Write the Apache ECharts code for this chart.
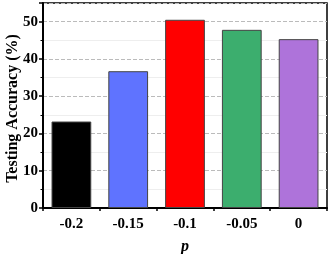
<!DOCTYPE html>
<html><head><meta charset="utf-8">
<script src="https://cdn.jsdelivr.net/npm/echarts@6/dist/echarts.min.js"></script>
<style>html,body{margin:0;padding:0;background:#fff}#c{width:332px;height:254px}</style>
</head><body><div id="c"></div>
<script>
const categories = ['-0.2', '-0.15', '-0.1', '-0.05', '0'];
const accuracy = [23.2, 36.7, 50.5, 47.8, 45.3];
const barColors = ['#000000', '#5F73FF', '#FF0000', '#3CAE6E', '#AE73DA'];
const yTicks = [0, 10, 20, 30, 40, 50];

const chart = echarts.init(document.getElementById('c'));
const font = '"Liberation Serif","Times New Roman",serif';
chart.setOption({
  animation: false,
  grid: {left: 43, right: 5, top: 3, bottom: 46, show: true, borderColor: '#000', borderWidth: 1.5,
         containLabel: false, outerBoundsMode: 'none'},
  xAxis: {
    type: 'category', data: categories,
    name: 'p', nameLocation: 'middle', nameGap: 31, nameMoveOverlap: false,
    nameTextStyle: {fontFamily: font, fontSize: 16, fontWeight: 'bold', fontStyle: 'italic', color: '#000'},
    axisLine: {lineStyle: {color: '#000', width: 2}},
    axisTick: {show: true, inside: false, length: 3, lineStyle: {color: '#000', width: 1.5}},
    axisLabel: {fontFamily: font, fontSize: 15, fontWeight: 'bold', color: '#000', margin: 9}
  },
  yAxis: {
    type: 'value', min: 0, max: 55, interval: 10,
    name: 'Testing Accuracy (%)', nameLocation: 'middle', nameGap: 22, nameMoveOverlap: false,
    nameTextStyle: {fontFamily: font, fontSize: 16, fontWeight: 'bold', color: '#000', padding: [0, 6, 0, 0]},
    axisLine: {show: true, lineStyle: {color: '#000', width: 2}},
    axisTick: {show: true, length: 4, lineStyle: {color: '#000', width: 1.5}},
    minorTick: {show: true, splitNumber: 2, length: 2.5, lineStyle: {color: '#000', width: 1}},
    splitLine: {show: true, lineStyle: {color: '#bbbbbb', type: 'dashed', width: 1}},
    minorSplitLine: {show: true, lineStyle: {color: '#eeeeee', width: 1}},
    axisLabel: {fontFamily: font, fontSize: 15, fontWeight: 'bold', color: '#000', margin: 5,
      formatter: v => yTicks.includes(v) ? String(v) : ''}
  },
  series: [{
    type: 'bar', barWidth: '70%',
    data: accuracy.map((v, i) => ({value: v, itemStyle: {color: barColors[i]}})),
    itemStyle: {borderColor: '#444', borderWidth: 1}
  }]
});
</script></body></html>
